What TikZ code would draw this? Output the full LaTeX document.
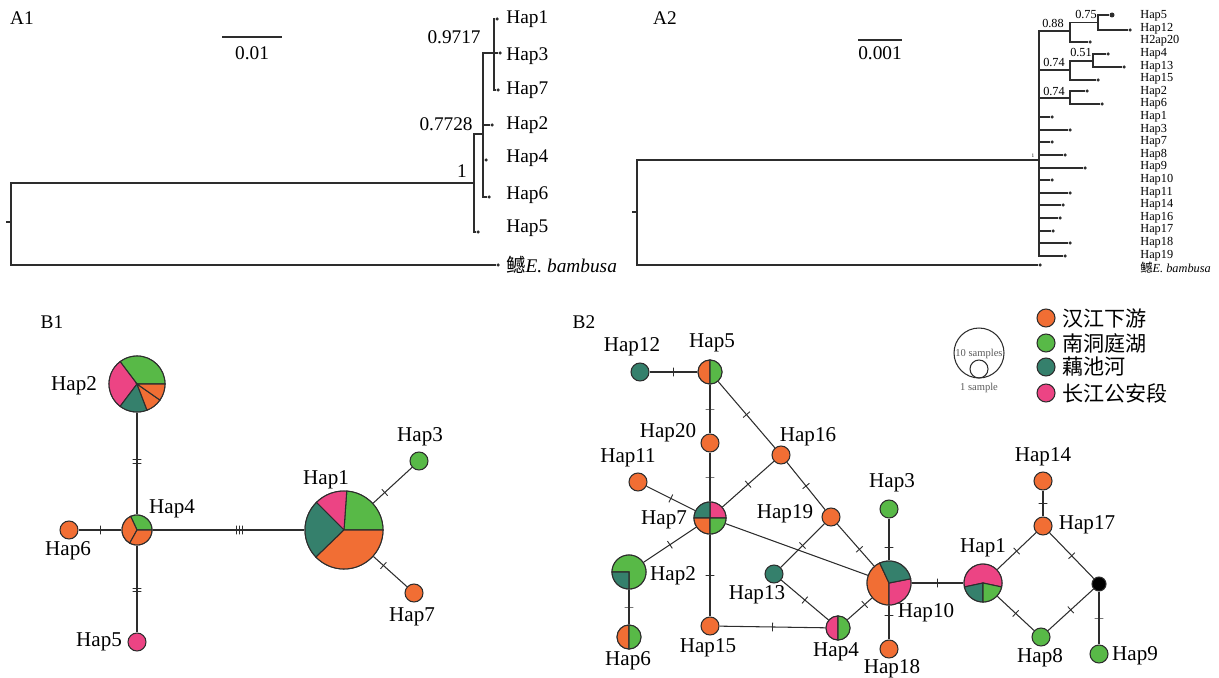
\documentclass[tikz,border=0pt]{standalone}
\usepackage{fontspec}
\setmainfont{Liberation Serif}
\newfontfamily\cjk{Noto Sans CJK SC}
\usetikzlibrary{positioning}
\definecolor{hjorange}{RGB}{241,110,52}
\definecolor{dtgreen}{RGB}{88,185,71}
\definecolor{ochteal}{RGB}{53,128,108}
\definecolor{gapink}{RGB}{236,68,132}
\definecolor{edgegray}{RGB}{45,45,45}
\definecolor{notegray}{RGB}{90,90,90}

% one coloured sector of a haplotype circle: node, start, end, radius, colour
\newcommand{\hapslice}[5]{%
  \filldraw[fill=#5, draw=edgegray, line width=0.6pt]
    (#1.center) -- ++(#2:#4) arc[start angle=#2, end angle=#3, radius=#4] -- cycle;}

\begin{document}
\begin{tikzpicture}[
    x=0.02cm, y=0.02cm,
    br/.style={
        draw=edgegray,
        line width=0.6pt
    },
    leaf/.style={
        circle,
        fill=edgegray,
        inner sep=0pt,
        minimum size=3.5*0.02cm
    },
    ta/.style={
        anchor=west,
        inner sep=0pt,
        font=\fontsize{11}{13}\selectfont
    },
    tb/.style={
        anchor=west,
        inner sep=0pt,
        font=\fontsize{7}{8}\selectfont
    },
    boot/.style={
        inner sep=0pt,
        font=\fontsize{11}{13}\selectfont
    },
    bootsm/.style={
        inner sep=0pt,
        font=\fontsize{7}{8}\selectfont
    },
    panel/.style={
        inner sep=0pt,
        font=\fontsize{11}{13}\selectfont
    },
    hap/.style={
        circle,
        draw=edgegray,
        line width=0.6pt,
        inner sep=0pt,
        minimum size=#1*0.04cm
    },
    ed/.style={
        draw=edgegray,
        line width=0.6pt
    },
    tk/.style={
        sloped,
        pos=0.5,
        draw=edgegray,
        line width=0.5pt,
        inner sep=0pt,
        minimum width=0pt,
        minimum height=5pt
    },
    hl/.style={
        inner sep=0pt,
        font=\fontsize{12}{14}\selectfont
    },
    lgt/.style={
        anchor=west,
        inner sep=0pt,
        font=\cjk\fontsize{12}{14}\selectfont
    }
]

\useasboundingbox (0,0) rectangle (1219,-678);

% ============================================================
% A1 — TREE
% ============================================================

\node[panel] (a1tag) at (22,-18) {A1};

\coordinate (a1sbl) at (222,-37);
\coordinate (a1sbr) at (282,-37);
\draw[br] (a1sbl) -- (a1sbr);
\node[boot] (a1sbt) at (252,-53) {0.01};

\coordinate (a1stub) at (6,-222);
\coordinate (a1root) at (11,-222);
\coordinate (a1n1) at (474,-183);
\coordinate (a1n2) at (483,-134);
\coordinate (a1n3) at (494,-53);

\node[leaf] (a1d1) at (497,-19) {};
\node[leaf] (a1d3) at (500,-53) {};
\node[leaf] (a1d7) at (498,-90) {};
\node[leaf] (a1d2) at (492,-125) {};
\node[leaf] (a1d4) at (486,-160) {};
\node[leaf] (a1d6) at (489,-197) {};
\node[leaf] (a1d5) at (478,-232) {};
\node[leaf] (a1dout) at (498,-265) {};

\draw[br] (a1stub) -- (a1root);
\draw[br] (a1root) |- (a1n1);
\draw[br] (a1root) |- (a1dout);
\draw[br] (a1n1) |- (a1n2);
\draw[br] (a1n1) |- (a1d5);
\draw[br] (a1n2) |- (a1n3);
\draw[br] (a1n2) |- (a1d2);
\draw[br] (a1n2) |- (a1d4);
\draw[br] (a1n2) |- (a1d6);
\draw[br] (a1n3) |- (a1d1);
\draw[br] (a1n3) |- (a1d3);
\draw[br] (a1n3) |- (a1d7);

\node[boot, anchor=east] (a1b1) at (481,-37) {0.9717};
\node[boot, anchor=east] (a1b2) at (473,-124) {0.7728};
\node[boot] (a1b3) at (462,-171) {1};

\node[ta] (a1l1) at (506,-19) {Hap1};
\node[ta] (a1l3) at (506,-56) {Hap3};
\node[ta] (a1l7) at (506,-90) {Hap7};
\node[ta] (a1l2) at (506,-125) {Hap2};
\node[ta] (a1l4) at (506,-158) {Hap4};
\node[ta] (a1l6) at (506,-195) {Hap6};
\node[ta] (a1l5) at (506,-228) {Hap5};
\node[ta] (a1lout) at (506,-265) {{\cjk 鳡}\textit{E. bambusa}};

% ============================================================
% A2 — TREE
% ============================================================

\node[panel] (a2tag) at (665,-18) {A2};

\coordinate (a2sbl) at (858,-40);
\coordinate (a2sbr) at (902,-40);
\draw[br] (a2sbl) -- (a2sbr);
\node[boot] (a2sbt) at (880,-53) {0.001};

\coordinate (a2stub) at (632,-212);
\coordinate (a2root) at (637,-212);
\coordinate (a2n1) at (1039,-160);
\coordinate (a2n2) at (1070,-31);
\coordinate (a2n3) at (1098,-22.5);
\coordinate (a2n4) at (1070,-70);
\coordinate (a2n5) at (1093,-61);
\coordinate (a2n6) at (1070,-98);

\node[leaf, minimum size=5*0.02cm] (a2d5) at (1112,-15) {};
\node[leaf] (a2d12) at (1130,-30) {};
\node[leaf] (a2d20) at (1090,-42) {};
\node[leaf] (a2d4) at (1108,-54) {};
\node[leaf] (a2d13) at (1124,-67) {};
\node[leaf] (a2d15) at (1098,-80) {};
\node[leaf] (a2d2) at (1087,-91) {};
\node[leaf] (a2d6) at (1102,-104) {};
\node[leaf] (a2dout) at (1040,-265) {};

\draw[br] (a2stub) -- (a2root);
\draw[br] (a2root) |- (a2n1);
\draw[br] (a2root) |- (a2dout);
\draw[br] (a2n1) |- (a2n2);
\draw[br] (a2n1) |- (a2n4);
\draw[br] (a2n1) |- (a2n6);
\draw[br] (a2n2) |- (a2n3);
\draw[br] (a2n2) |- (a2d20);
\draw[br] (a2n3) |- (a2d5);
\draw[br] (a2n3) |- (a2d12);
\draw[br] (a2n4) |- (a2n5);
\draw[br] (a2n4) |- (a2d15);
\draw[br] (a2n5) |- (a2d4);
\draw[br] (a2n5) |- (a2d13);
\draw[br] (a2n6) |- (a2d2);
\draw[br] (a2n6) |- (a2d6);

\foreach \h/\y/\x in {1/117/1052, 3/130/1070, 7/142/1052, 8/155/1065,
                      9/168/1085, 10/180/1052, 11/193/1070, 14/205/1063,
                      16/218/1060, 17/231/1053, 18/243/1070, 19/256/1065} {
    \node[leaf] (a2d\h) at (\x,-\y) {};
    \draw[br] (a2n1) |- (a2d\h);
}

\node[bootsm] (a2b1) at (1053,-24) {0.88};
\node[bootsm] (a2b2) at (1086,-15) {0.75};
\node[bootsm] (a2b3) at (1054,-63) {0.74};
\node[bootsm] (a2b4) at (1081,-53) {0.51};
\node[bootsm] (a2b5) at (1054,-92) {0.74};
\node[inner sep=0pt, font=\fontsize{3}{3}\selectfont] (a2b6) at (1033,-156) {1};

\foreach \t [count=\i] in {Hap5, Hap12, H2ap20, Hap4, Hap13, Hap15, Hap2, Hap6,
                           Hap1, Hap3, Hap7, Hap8, Hap9, Hap10, Hap11, Hap14,
                           Hap16, Hap17, Hap18, Hap19}
    \node[tb] (a2l\i) at (1140,{-16-(\i-1)*12.6}) {\t};
\node[tb] (a2lout) at (1140,-268) {{\cjk 鳡}\textit{E. bambusa}};

% ============================================================
% B1 — NETWORK
% ============================================================

\node[panel] (b1tag) at (52,-322) {B1};

\node[hap=28] (b1h2) at (137,-384) {};
\node[hap=15] (b1h4) at (137,-530) {};
\node[hap=9, fill=hjorange] (b1h6) at (69,-530) {};
\node[hap=9, fill=gapink] (b1h5) at (137,-642) {};
\node[hap=39] (b1h1) at (344,-530) {};
\node[hap=9, fill=dtgreen] (b1h3) at (419,-461) {};
\node[hap=9, fill=hjorange] (b1h7) at (414,-593) {};

\draw[ed] (b1h2) -- node[tk, pos=.465]{} node[tk, pos=.495]{} (b1h4);
\draw[ed] (b1h6) -- node[tk, pos=.52]{} (b1h4);
\draw[ed] (b1h4) -- node[tk, pos=.49]{} node[tk, pos=.525]{} (b1h5);
\draw[ed] (b1h4) -- node[tk, pos=.55]{} node[tk, pos=.57]{} node[tk, pos=.59]{} (b1h1);
\draw[ed] (b1h1) -- node[tk, pos=.3]{} (b1h3);
\draw[ed] (b1h1) -- node[tk, pos=.3]{} (b1h7);

\hapslice{b1h2}{0}{127}{28}{dtgreen}
\hapslice{b1h2}{127}{233}{28}{gapink}
\hapslice{b1h2}{233}{291}{28}{ochteal}
\hapslice{b1h2}{291}{325}{28}{hjorange}
\hapslice{b1h2}{325}{360}{28}{hjorange}

\hapslice{b1h4}{0}{115}{15}{dtgreen}
\hapslice{b1h4}{115}{241}{15}{hjorange}
\hapslice{b1h4}{241}{360}{15}{hjorange}

\hapslice{b1h1}{0}{86}{39}{dtgreen}
\hapslice{b1h1}{86}{135}{39}{gapink}
\hapslice{b1h1}{135}{224}{39}{ochteal}
\hapslice{b1h1}{224}{360}{39}{hjorange}

\node[hl] (b1l2) at (74,-386) {Hap2};
\node[hl] (b1l4) at (172,-509) {Hap4};
\node[hl] (b1l6) at (68,-551) {Hap6};
\node[hl] (b1l5) at (99,-642) {Hap5};
\node[hl] (b1l1) at (326,-480) {Hap1};
\node[hl] (b1l3) at (420,-437) {Hap3};
\node[hl] (b1l7) at (412,-617) {Hap7};

% ============================================================
% B2 — NETWORK
% ============================================================

\node[panel] (b2tag) at (584,-322) {B2};

\node[hap=9, fill=ochteal] (b2h12) at (640,-372) {};
\node[hap=12] (b2h5) at (710,-372) {};
\node[hap=9, fill=hjorange] (b2h20) at (710,-443) {};
\node[hap=9, fill=hjorange] (b2h16) at (781,-455) {};
\node[hap=9, fill=hjorange] (b2h11) at (638,-482) {};
\node[hap=16] (b2h7) at (710,-518) {};
\node[hap=9, fill=hjorange] (b2h19) at (831,-517) {};
\node[hap=9, fill=dtgreen] (b2h3) at (889,-509) {};
\node[hap=17] (b2h2) at (629,-572) {};
\node[hap=9, fill=ochteal] (b2h13) at (774,-574) {};
\node[hap=22] (b2h10) at (889,-583) {};
\node[hap=19] (b2h1) at (983,-583) {};
\node[hap=9, fill=hjorange] (b2h14) at (1043,-481) {};
\node[hap=9, fill=hjorange] (b2h17) at (1043,-526) {};
\node[hap=7, fill=black] (b2mv) at (1099,-584) {};
\node[hap=9, fill=dtgreen] (b2h8) at (1041,-637) {};
\node[hap=9, fill=dtgreen] (b2h9) at (1099,-654) {};
\node[hap=12] (b2h6) at (629,-637) {};
\node[hap=9, fill=hjorange] (b2h15) at (710,-626) {};
\node[hap=12] (b2h4) at (838,-628) {};
\node[hap=9, fill=hjorange] (b2h18) at (889,-649) {};

\draw[ed] (b2h12) -- node[tk]{} (b2h5);
\draw[ed] (b2h5) -- node[tk]{} (b2h20);
\draw[ed] (b2h5) -- node[tk]{} (b2h16);
\draw[ed] (b2h20) -- node[tk]{} (b2h7);
\draw[ed] (b2h11) -- node[tk]{} (b2h7);
\draw[ed] (b2h16) -- node[tk]{} (b2h7);
\draw[ed] (b2h16) -- node[tk]{} (b2h19);
\draw[ed] (b2h7) -- (b2h10);
\draw[ed] (b2h7) -- node[tk]{} (b2h2);
\draw[ed] (b2h7) -- node[tk]{} (b2h15);
\draw[ed] (b2h2) -- node[tk]{} (b2h6);
\draw[ed] (b2h19) -- node[tk]{} (b2h13);
\draw[ed] (b2h19) -- node[tk, pos=.6]{} (b2h10);
\draw[ed] (b2h13) -- node[tk]{} (b2h4);
\draw[ed] (b2h15) -- node[tk]{} (b2h4);
\draw[ed] (b2h4) -- node[tk, pos=.7]{} (b2h10);
\draw[ed] (b2h3) -- node[tk, pos=.7]{} (b2h10);
\draw[ed] (b2h10) -- node[tk, pos=.3]{} (b2h18);
\draw[ed] (b2h10) -- node[tk]{} (b2h1);
\draw[ed] (b2h1) -- node[tk]{} (b2h17);
\draw[ed] (b2h1) -- node[tk]{} (b2h8);
\draw[ed] (b2h14) -- node[tk]{} (b2h17);
\draw[ed] (b2h17) -- node[tk]{} (b2mv);
\draw[ed] (b2h8) -- node[tk]{} (b2mv);
\draw[ed] (b2mv) -- node[tk]{} (b2h9);

\hapslice{b2h5}{90}{270}{12}{hjorange}
\hapslice{b2h5}{-90}{90}{12}{dtgreen}

\hapslice{b2h7}{0}{90}{16}{gapink}
\hapslice{b2h7}{90}{180}{16}{ochteal}
\hapslice{b2h7}{180}{270}{16}{hjorange}
\hapslice{b2h7}{270}{360}{16}{dtgreen}

\hapslice{b2h2}{-90}{180}{17}{dtgreen}
\hapslice{b2h2}{180}{270}{17}{ochteal}

\hapslice{b2h6}{90}{270}{12}{hjorange}
\hapslice{b2h6}{-90}{90}{12}{dtgreen}

\hapslice{b2h4}{90}{270}{12}{gapink}
\hapslice{b2h4}{-90}{90}{12}{dtgreen}

\hapslice{b2h10}{115}{270}{22}{hjorange}
\hapslice{b2h10}{270}{371}{22}{gapink}
\hapslice{b2h10}{11}{115}{22}{ochteal}

\hapslice{b2h1}{-12}{192}{19}{gapink}
\hapslice{b2h1}{192}{270}{19}{ochteal}
\hapslice{b2h1}{270}{348}{19}{dtgreen}

\node[hl] (b2l12) at (632,-347) {Hap12};
\node[hl] (b2l5) at (712,-343) {Hap5};
\node[hl] (b2l20) at (668,-433) {Hap20};
\node[hl] (b2l16) at (808,-437) {Hap16};
\node[hl] (b2l11) at (628,-458) {Hap11};
\node[hl] (b2l7) at (664,-520) {Hap7};
\node[hl] (b2l19) at (785,-514) {Hap19};
\node[hl] (b2l3) at (892,-483) {Hap3};
\node[hl] (b2l2) at (673,-576) {Hap2};
\node[hl] (b2l13) at (757,-595) {Hap13};
\node[hl] (b2l10) at (926,-613) {Hap10};
\node[hl] (b2l1) at (983,-548) {Hap1};
\node[hl] (b2l14) at (1043,-457) {Hap14};
\node[hl] (b2l17) at (1087,-525) {Hap17};
\node[hl] (b2l8) at (1040,-658) {Hap8};
\node[hl] (b2l9) at (1135,-656) {Hap9};
\node[hl] (b2l6) at (628,-661) {Hap6};
\node[hl] (b2l15) at (708,-648) {Hap15};
\node[hl] (b2l4) at (836,-652) {Hap4};
\node[hl] (b2l18) at (892,-669) {Hap18};

% ============================================================
% LEGEND
% ============================================================

\node[hap=25] (sz10) at (979,-353) {};
\node[hap=9] (sz1) at (979,-369) {};
\node[inner sep=0pt, text=notegray, font=\fontsize{6}{7}\selectfont] (sz10t) at (979,-354) {10 samples};
\node[inner sep=0pt, text=notegray, font=\fontsize{6}{7}\selectfont] (sz1t) at (979,-388) {1 sample};

\node[hap=9, fill=hjorange] (lg1) at (1046,-318) {};
\node[hap=9, fill=dtgreen] (lg2) at (1046,-343) {};
\node[hap=9, fill=ochteal] (lg3) at (1046,-367) {};
\node[hap=9, fill=gapink] (lg4) at (1046,-393) {};
\node[lgt] (lg1t) at (1062,-318) {汉江下游};
\node[lgt] (lg2t) at (1062,-343) {南洞庭湖};
\node[lgt] (lg3t) at (1062,-367) {藕池河};
\node[lgt] (lg4t) at (1062,-393) {长江公安段};

\end{tikzpicture}
\end{document}
